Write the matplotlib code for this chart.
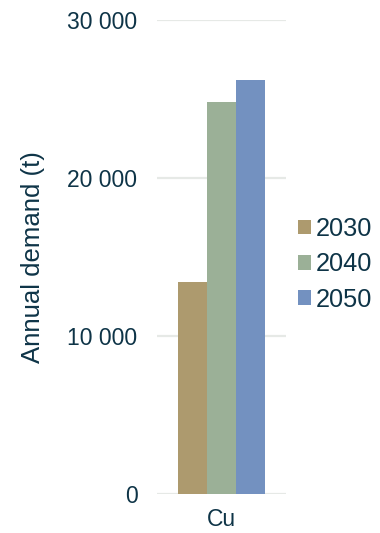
import matplotlib.pyplot as plt
import numpy as np

plt.rcParams['font.family'] = ['Liberation Sans', 'DejaVu Sans']

categories = ["Cu"]
years = ["2030", "2040", "2050"]
demand = {
    "2030": [13400],
    "2040": [24800],
    "2050": [26200],
}
colors = ["#AD9A6E", "#9BB097", "#7391C0"]
text_color = "#0E3447"

fig = plt.figure(figsize=(3.8, 5.33), dpi=100)
ax = fig.add_axes([0.413, 0.0737, 0.34, 0.8888])

x = np.arange(len(categories))
width = 0.225
for i, (year, color) in enumerate(zip(years, colors)):
    offset = (i - 1) * width
    ax.bar(x + offset, demand[year], width, color=color, label=year, zorder=3)

ax.set_xlim(-0.5, 0.5)
ax.set_ylim(0, 30000)
ax.set_yticks([0, 10000, 20000, 30000])
ax.set_yticklabels(["0", "10 000", "20 000", "30 000"])
ax.set_xticks(x)
ax.set_xticklabels(categories)

ax.grid(axis="y", color="#E6E9E6", linewidth=1.6, zorder=0)
ax.axhline(0, color="#D8E0D8", linewidth=1.8, zorder=1)
for s in ax.spines.values():
    s.set_visible(False)
ax.tick_params(axis="both", length=0, colors=text_color, labelsize=16.5)
ax.tick_params(axis="y", pad=14)
ax.tick_params(axis="x", pad=10)

ax.set_ylabel("Annual demand (t)", fontsize=18.5, color=text_color, labelpad=16)

leg = ax.legend(loc="center left", bbox_to_anchor=(1.09, 0.484), frameon=False,
                fontsize=18.3, handlelength=0.52, handleheight=0.52,
                handletextpad=0.2, labelspacing=0.45, borderpad=0, borderaxespad=0)
for t in leg.get_texts():
    t.set_color(text_color)

fig.savefig("out.png", dpi=100)
plt.close(fig)
